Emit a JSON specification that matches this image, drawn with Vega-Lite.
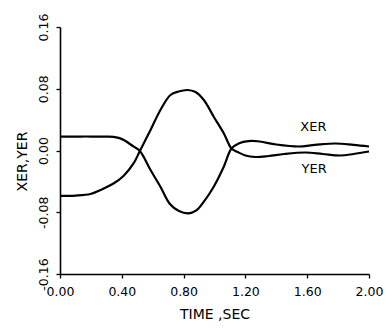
{
  "$schema": "https://vega.github.io/schema/vega-lite/v6.json",
  "width": 309,
  "height": 247,
  "autosize": {"type": "none"},
  "padding": {"left": 60, "top": 27, "right": 17, "bottom": 55},
  "background": "white",
  "config": {
    "view": {"stroke": null},
    "font": "DejaVu Sans",
    "axis": {
      "domainColor": "black",
      "domainWidth": 1.6,
      "tickColor": "black",
      "tickWidth": 1.3,
      "tickSize": 4,
      "grid": false,
      "labelColor": "black",
      "labelFont": "DejaVu Sans",
      "labelFontSize": 12.5,
      "titleColor": "black",
      "titleFont": "DejaVu Sans",
      "titleFontSize": 14,
      "titleFontWeight": "normal"
    }
  },
  "datasets": {
    "curves": [
      {"t": 0.0, "v": 0.0181, "s": "XER"},
      {"t": 0.1, "v": 0.0181, "s": "XER"},
      {"t": 0.2, "v": 0.0181, "s": "XER"},
      {"t": 0.3, "v": 0.018, "s": "XER"},
      {"t": 0.346, "v": 0.0177, "s": "XER"},
      {"t": 0.38, "v": 0.0163, "s": "XER"},
      {"t": 0.413, "v": 0.0136, "s": "XER"},
      {"t": 0.478, "v": 0.0049, "s": "XER"},
      {"t": 0.517, "v": -0.0006, "s": "XER"},
      {"t": 0.586, "v": -0.0253, "s": "XER"},
      {"t": 0.65, "v": -0.0469, "s": "XER"},
      {"t": 0.71, "v": -0.069, "s": "XER"},
      {"t": 0.77, "v": -0.0785, "s": "XER"},
      {"t": 0.83, "v": -0.0815, "s": "XER"},
      {"t": 0.88, "v": -0.078, "s": "XER"},
      {"t": 0.931, "v": -0.0663, "s": "XER"},
      {"t": 0.995, "v": -0.0469, "s": "XER"},
      {"t": 1.06, "v": -0.021, "s": "XER"},
      {"t": 1.11, "v": 0.0026, "s": "XER"},
      {"t": 1.16, "v": 0.0095, "s": "XER"},
      {"t": 1.22, "v": 0.0122, "s": "XER"},
      {"t": 1.28, "v": 0.012, "s": "XER"},
      {"t": 1.4, "v": 0.0078, "s": "XER"},
      {"t": 1.544, "v": 0.0052, "s": "XER"},
      {"t": 1.65, "v": 0.0072, "s": "XER"},
      {"t": 1.783, "v": 0.0091, "s": "XER"},
      {"t": 1.9, "v": 0.0072, "s": "XER"},
      {"t": 2.0, "v": 0.0052, "s": "XER"},
      {"t": 0.0, "v": -0.0589, "s": "YER"},
      {"t": 0.1, "v": -0.0584, "s": "YER"},
      {"t": 0.197, "v": -0.0564, "s": "YER"},
      {"t": 0.262, "v": -0.0512, "s": "YER"},
      {"t": 0.346, "v": -0.0428, "s": "YER"},
      {"t": 0.411, "v": -0.033, "s": "YER"},
      {"t": 0.476, "v": -0.0168, "s": "YER"},
      {"t": 0.517, "v": -0.0006, "s": "YER"},
      {"t": 0.586, "v": 0.0266, "s": "YER"},
      {"t": 0.65, "v": 0.0525, "s": "YER"},
      {"t": 0.715, "v": 0.0719, "s": "YER"},
      {"t": 0.767, "v": 0.0764, "s": "YER"},
      {"t": 0.825, "v": 0.0784, "s": "YER"},
      {"t": 0.877, "v": 0.0758, "s": "YER"},
      {"t": 0.931, "v": 0.0654, "s": "YER"},
      {"t": 0.995, "v": 0.0438, "s": "YER"},
      {"t": 1.06, "v": 0.0223, "s": "YER"},
      {"t": 1.11, "v": 0.0026, "s": "YER"},
      {"t": 1.15, "v": -0.002, "s": "YER"},
      {"t": 1.2, "v": -0.0065, "s": "YER"},
      {"t": 1.265, "v": -0.0084, "s": "YER"},
      {"t": 1.35, "v": -0.0071, "s": "YER"},
      {"t": 1.45, "v": -0.0045, "s": "YER"},
      {"t": 1.589, "v": -0.0026, "s": "YER"},
      {"t": 1.7, "v": -0.0045, "s": "YER"},
      {"t": 1.816, "v": -0.0065, "s": "YER"},
      {"t": 1.9, "v": -0.0045, "s": "YER"},
      {"t": 2.0, "v": -0.0013, "s": "YER"}
    ],
    "labels": [
      {"t": 1.64, "v": 0.0298, "name": "XER"},
      {"t": 1.645, "v": -0.024, "name": "YER"}
    ]
  },
  "layer": [
    {
      "data": {"name": "curves"},
      "mark": {"type": "line", "interpolate": "catmull-rom", "strokeWidth": 2.2, "color": "black"},
      "encoding": {
        "x": {
          "field": "t", "type": "quantitative",
          "scale": {"domain": [0, 2], "nice": false, "zero": false},
          "axis": {
            "title": "TIME ,SEC",
            "values": [0, 0.2, 0.4, 0.6, 0.8, 1.0, 1.2, 1.4, 1.6, 1.8, 2.0],
            "format": ".2f",
            "labelExpr": "indexof(['0.00','0.40','0.80','1.20','1.60','2.00'], datum.label) >= 0 ? datum.label : ''",
            "labelPadding": 7,
            "labelFlush": false,
            "labelOverlap": false,
            "titlePadding": 10
          }
        },
        "y": {
          "field": "v", "type": "quantitative",
          "scale": {"domain": [-0.16, 0.16], "nice": false, "zero": false},
          "axis": {
            "title": "XER,YER",
            "values": [-0.16, -0.12, -0.08, -0.04, 0, 0.04, 0.08, 0.12, 0.16],
            "format": ".2f",
            "labelExpr": "indexof(['−0.16','−0.08','0.00','0.08','0.16'], datum.label) >= 0 ? replace(datum.label, '−', '-') : ''",
            "labelAngle": -90,
            "labelAlign": "center",
            "labelBaseline": "bottom",
            "labelPadding": 6,
            "labelFlush": false,
            "labelOverlap": false,
            "titleX": -38,
            "titleY": 134,
            "titleAlign": "center",
            "titleBaseline": "middle",
            "titleAngle": -90
          }
        },
        "detail": {"field": "s", "type": "nominal"}
      }
    },
    {
      "data": {"name": "labels"},
      "mark": {"type": "text", "font": "DejaVu Sans", "fontSize": 13, "color": "black"},
      "encoding": {
        "x": {"field": "t", "type": "quantitative"},
        "y": {"field": "v", "type": "quantitative"},
        "text": {"field": "name", "type": "nominal"}
      }
    }
  ]
}
